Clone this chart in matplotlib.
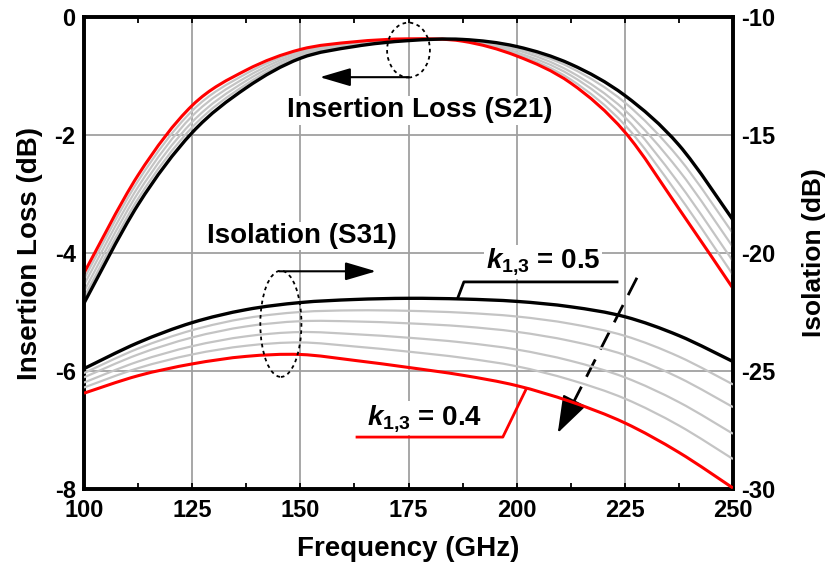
import matplotlib
matplotlib.use("Agg")
import matplotlib.pyplot as plt
from matplotlib import font_manager
from matplotlib.patches import Ellipse, PathPatch
from matplotlib.path import Path

plt.rcParams['axes.unicode_minus'] = False
plt.rcParams['font.family'] = ['Liberation Sans', 'DejaVu Sans']
plt.rcParams['mathtext.fontset'] = 'custom'
plt.rcParams['mathtext.rm'] = 'Liberation Sans:bold'
plt.rcParams['mathtext.bf'] = 'Liberation Sans:bold'
plt.rcParams['mathtext.it'] = 'Liberation Sans:italic:bold'

# tick labels in the reference look condensed
try:
    font_manager.findfont('Liberation Sans Narrow', fallback_to_default=False)
    TICK_FONT, TICK_SIZE = 'Liberation Sans Narrow', 20
except Exception:
    TICK_FONT, TICK_SIZE = 'Liberation Sans', 17

freq = [100, 112.5, 125, 137.5, 150, 162.5, 175, 187.5, 200, 212.5, 225, 237.5, 250]

# Insertion loss S21 (dB), k13 = 0.5 (black) ... 0.4 (red)
il_k050 = [-4.85, -3.18, -1.96, -1.20, -0.70, -0.50, -0.40, -0.38, -0.50, -0.80, -1.33, -2.17, -3.44]
il_k048 = [-4.75, -3.08, -1.87, -1.14, -0.67, -0.49, -0.39, -0.38, -0.53, -0.86, -1.45, -2.39, -3.67]
il_k046 = [-4.65, -2.98, -1.78, -1.08, -0.64, -0.47, -0.39, -0.39, -0.56, -0.93, -1.58, -2.60, -3.90]
il_k044 = [-4.54, -2.88, -1.68, -1.02, -0.61, -0.46, -0.38, -0.39, -0.60, -0.99, -1.70, -2.82, -4.14]
il_k042 = [-4.44, -2.78, -1.59, -0.96, -0.58, -0.44, -0.38, -0.40, -0.63, -1.06, -1.83, -3.03, -4.37]
il_k040 = [-4.34, -2.68, -1.50, -0.90, -0.55, -0.42, -0.37, -0.41, -0.66, -1.12, -1.95, -3.25, -4.60]

# Isolation S31 (dB)
iso_k050 = [-24.90, -23.80, -22.95, -22.40, -22.10, -21.97, -21.92, -21.95, -22.05, -22.28, -22.70, -23.50, -24.60]
iso_k048 = [-25.09, -24.05, -23.27, -22.76, -22.50, -22.43, -22.45, -22.53, -22.69, -23.00, -23.51, -24.39, -25.57]
iso_k046 = [-25.27, -24.30, -23.58, -23.11, -22.89, -22.90, -22.98, -23.11, -23.34, -23.73, -24.32, -25.28, -26.53]
iso_k044 = [-25.49, -24.60, -23.95, -23.53, -23.35, -23.44, -23.59, -23.79, -24.09, -24.57, -25.27, -26.32, -27.66]
iso_k042 = [-25.70, -24.88, -24.30, -23.93, -23.79, -23.96, -24.18, -24.44, -24.80, -25.38, -26.17, -27.31, -28.73]
iso_k040 = [-25.94, -25.20, -24.70, -24.38, -24.30, -24.55, -24.85, -25.18, -25.62, -26.30, -27.20, -28.45, -29.96]

x_ticks = [100, 125, 150, 175, 200, 225, 250]
il_ticks = [-8, -6, -4, -2, 0]
iso_ticks = [-30, -25, -20, -15, -10]

GRAY = '#c4c4c4'
GRID = '#a0a0a0'
RED = '#ff0000'


def smooth_curve(axis, xs, ys, color, lw, z):
    # draw a smooth Bezier (Catmull-Rom) through the read points
    pts = list(zip(xs, ys))
    n = len(pts)
    verts = [pts[0]]
    codes = [Path.MOVETO]
    for i in range(n - 1):
        p0 = pts[max(i - 1, 0)]
        p1 = pts[i]
        p2 = pts[i + 1]
        p3 = pts[min(i + 2, n - 1)]
        c1 = (p1[0] + (p2[0] - p0[0]) / 6, p1[1] + (p2[1] - p0[1]) / 6)
        c2 = (p2[0] - (p3[0] - p1[0]) / 6, p2[1] - (p3[1] - p1[1]) / 6)
        verts += [c1, c2, p2]
        codes += [Path.CURVE4] * 3
    patch = PathPatch(Path(verts, codes), fill=False, edgecolor=color, lw=lw, zorder=z,
                      capstyle='butt', joinstyle='round')
    axis.add_patch(patch)


fig = plt.figure(figsize=(8.28, 5.71), dpi=100)
ax = fig.add_axes([84/828, 1-489/571, 649/828, 472/571])
ax2 = ax.twinx()

# insertion loss on left axis
for il in [il_k048, il_k046, il_k044, il_k042]:
    smooth_curve(ax, freq, il, GRAY, 1.6, 3)
smooth_curve(ax, freq, il_k040, RED, 2.2, 4)
smooth_curve(ax, freq, il_k050, 'black', 2.4, 5)

# isolation on right axis
for iso in [iso_k048, iso_k046, iso_k044, iso_k042]:
    smooth_curve(ax2, freq, iso, GRAY, 1.6, 3)
smooth_curve(ax2, freq, iso_k040, RED, 2.2, 4)
smooth_curve(ax2, freq, iso_k050, 'black', 2.4, 5)

ax.set_xlim(100, 250)
ax.set_ylim(-8, 0)
ax2.set_ylim(-30, -10)
ax.set_xticks(x_ticks)
ax.set_xticks([112.5, 137.5, 162.5, 187.5, 212.5, 237.5], minor=True)
ax.set_yticks(il_ticks)
ax2.set_yticks(iso_ticks)
ax.grid(True, which='major', color=GRID, lw=1.3, zorder=0)
ax.set_axisbelow(True)

ax.tick_params(axis='x', which='both', direction='in', top=True, length=4, width=1.3, pad=7)
ax.tick_params(axis='y', direction='in', length=0, pad=6)
ax2.tick_params(axis='y', direction='in', length=0, pad=6)
for lab in ax.get_xticklabels() + ax.get_yticklabels() + ax2.get_yticklabels():
    lab.set_fontfamily(TICK_FONT)
    lab.set_fontsize(TICK_SIZE)
    lab.set_fontweight('bold')

for a in (ax, ax2):
    for sp in a.spines.values():
        sp.set_linewidth(2.6)

ax.set_xlabel('Frequency (GHz)', fontsize=20, fontweight='bold')
ax.set_ylabel('Insertion Loss (dB)', fontsize=20, fontweight='bold')
ax2.set_ylabel('Isolation (dB)', fontsize=19, fontweight='bold', rotation=90)
ax.xaxis.set_label_coords(0.5, -0.100)
ax.yaxis.set_label_coords(-0.063, 0.5)
ax2.yaxis.set_label_coords(1.106, 0.5)

# annotations; labels sit on white so the grid breaks behind them
box = dict(fc='white', ec='none', pad=1)
head = '-|>,head_length=0.95,head_width=0.28'
ax.add_patch(Ellipse((175, -0.56), 9.9, 0.93, fill=False, ls=(0, (2, 2)), lw=1.3, color='black', zorder=6))
ax.annotate('', xy=(154.5, -1.02), xytext=(175.1, -1.02),
            arrowprops=dict(arrowstyle=head, color='black', lw=1.5, mutation_scale=20,
                            shrinkA=0, shrinkB=0), zorder=6)
ax.text(177.7, -1.58, 'Insertion Loss (S21)', fontsize=20, fontweight='bold', ha='center', va='center',
        bbox=box, zorder=2)

ax2.add_patch(Ellipse((145.5, -23.0), 9.5, 4.5, fill=False, ls=(0, (2, 2)), lw=1.3, color='black', zorder=6))
ax.annotate('', xy=(167.5, -4.31), xytext=(145.1, -4.31),
            arrowprops=dict(arrowstyle=head, color='black', lw=1.5, mutation_scale=20,
                            shrinkA=0, shrinkB=0), zorder=6)
ax.text(150.4, -3.71, 'Isolation (S31)', fontsize=20, fontweight='bold', ha='center', va='center',
        bbox=box, zorder=2)

ax.text(206.1, -4.15, r'$k_{1{,}3}$ = 0.5', fontsize=20, fontweight='bold', ha='center', va='center',
        bbox=box, zorder=2)
ax.plot([223.2, 187.8, 186.4], [-4.49, -4.49, -4.76], color='black', lw=2.0, zorder=6)
ax.text(178.8, -6.8, r'$k_{1{,}3}$ = 0.4', fontsize=20, fontweight='bold', ha='center', va='center',
        bbox=box, zorder=2)
ax.plot([163.1, 196.8, 202.1], [-7.12, -7.12, -6.32], color=RED, lw=2.0, zorder=6)

# dashed trend arrow (k13 decreasing)
ax.plot([227.8, 212.3], [-4.42, -6.65], color='black', lw=2.0, ls=(0, (7, 4)), zorder=6)
ax.annotate('', xy=(209.5, -7.05), xytext=(212.3, -6.65),
            arrowprops=dict(arrowstyle='-|>,head_length=1.3,head_width=0.45', color='black', lw=1.5,
                            mutation_scale=18, shrinkA=0, shrinkB=0), zorder=6)

fig.savefig('out.png', dpi=100)
